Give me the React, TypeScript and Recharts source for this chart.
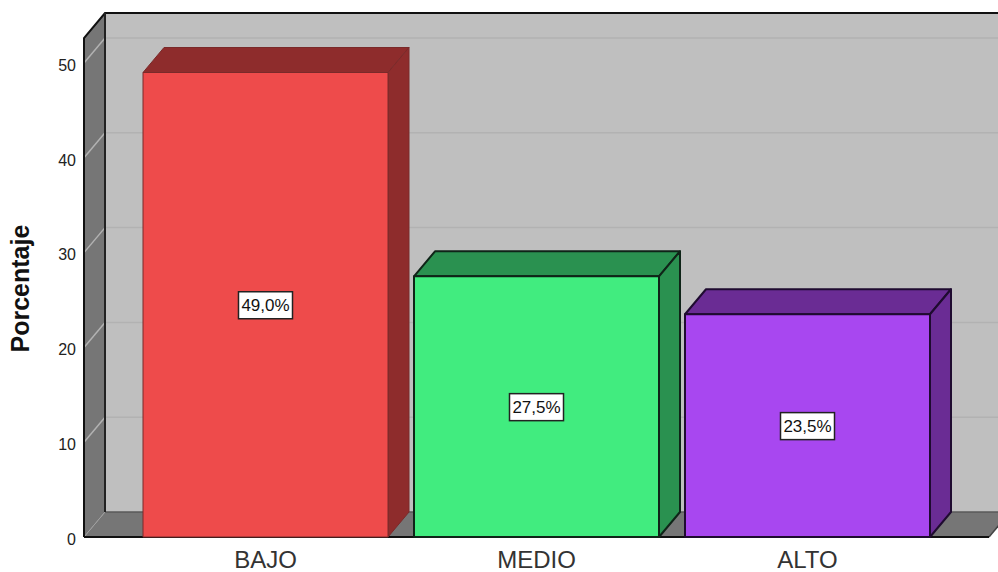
import React from 'react';
import { BarChart, Bar, XAxis, YAxis, LabelList, usePlotArea } from 'recharts';

const categories = ['BAJO', 'MEDIO', 'ALTO'];
const percentages = [49.0, 27.5, 23.5];
const valueTicks = [0, 10, 20, 30, 40, 50];
const frontColors = ['#EE4B4B', '#41EC7F', '#A847F0'];
const shadeColors = ['#8E2C2C', '#2A9150', '#6A2C94'];
const edgeColors = ['#7A2A2A', '#0F2418', '#1F0B30'];
const edgeWidths = [1, 2, 2];

const AXIS_MAX = 52.64;
const DEPTH_X = 21;
const DEPTH_Y = 25;
const FONT = '"Liberation Sans", Arial, sans-serif';

const rows = categories.map((name, i) => ({ name, value: percentages[i] }));

// Back wall, left wall and floor of the 3D box behind the bars.
function Walls() {
  const plot = usePlotArea();
  if (!plot) return null;
  const { x, y, width, height } = plot;
  const bottom = y + height;
  const right = x + width;
  const yOf = (v: number) => bottom - (v / AXIS_MAX) * height;
  return (
    <g>
      <rect x={x + DEPTH_X} y={y - DEPTH_Y} width={width} height={height} fill="#BFBFBF" />
      <polygon
        points={`${x},${y} ${x + DEPTH_X},${y - DEPTH_Y} ${x + DEPTH_X},${bottom - DEPTH_Y} ${x},${bottom}`}
        fill="#767676"
      />
      <polygon
        points={`${x},${bottom} ${x + DEPTH_X},${bottom - DEPTH_Y} ${right + DEPTH_X},${bottom - DEPTH_Y} ${right},${bottom}`}
        fill="#767676"
      />
      {valueTicks.slice(1).map((t) => (
        <g key={t} stroke="#B2B2B2" strokeWidth={1.5} fill="none">
          <line x1={x} y1={yOf(t)} x2={x + DEPTH_X} y2={yOf(t) - DEPTH_Y} />
          <line x1={x + DEPTH_X} y1={yOf(t) - DEPTH_Y} x2={right + DEPTH_X} y2={yOf(t) - DEPTH_Y} />
        </g>
      ))}
      <line x1={x} y1={bottom} x2={x + DEPTH_X} y2={bottom - DEPTH_Y} stroke="#A0A0A0" strokeWidth={1} />
      <line x1={x + DEPTH_X} y1={bottom - DEPTH_Y} x2={right + DEPTH_X} y2={bottom - DEPTH_Y} stroke="#5A5A5A" strokeWidth={1.5} />
      <path
        d={`M${x},${bottom} L${x},${y} L${x + DEPTH_X},${y - DEPTH_Y} L${right + DEPTH_X},${y - DEPTH_Y}`}
        stroke="#111111"
        strokeWidth={2}
        fill="none"
      />
      <line x1={x + DEPTH_X} y1={y - DEPTH_Y} x2={x + DEPTH_X} y2={bottom - DEPTH_Y} stroke="#222222" strokeWidth={2} />
      <line x1={right} y1={bottom} x2={right + DEPTH_X} y2={bottom - DEPTH_Y} stroke="#444444" strokeWidth={1.5} />
      <line x1={x} y1={bottom} x2={right} y2={bottom} stroke="#111111" strokeWidth={2} />
    </g>
  );
}

// A bar drawn as a box: front face, top face and right side.
function BoxBar(props: any) {
  const { x, y, width, height, index } = props;
  const shade = shadeColors[index];
  const r = x + width;
  const b = y + height;
  return (
    <g stroke={edgeColors[index]} strokeWidth={edgeWidths[index]} strokeLinejoin="round">
      <polygon
        points={`${x},${y} ${x + DEPTH_X},${y - DEPTH_Y} ${r + DEPTH_X},${y - DEPTH_Y} ${r},${y}`}
        fill={shade}
      />
      <polygon
        points={`${r},${y} ${r + DEPTH_X},${y - DEPTH_Y} ${r + DEPTH_X},${b - DEPTH_Y} ${r},${b}`}
        fill={shade}
      />
      <rect x={x} y={y} width={width} height={height} fill={frontColors[index]} />
    </g>
  );
}

// White boxed percentage at the middle of each front face.
function BoxLabel(props: any) {
  const { x, y, width, height, value } = props;
  const cx = x + width / 2;
  const cy = y + height / 2;
  const text = `${Number(value).toFixed(1).replace('.', ',')}%`;
  return (
    <g>
      <rect x={cx - 27} y={cy - 13} width={54} height={27} fill="#FFFFFF" stroke="#222222" strokeWidth={1.5} />
      <text x={cx} y={cy + 6.5} textAnchor="middle" fontSize={17} fontFamily={FONT} fill="#111111">
        {text}
      </text>
    </g>
  );
}

export default function App() {
  return (
    <div style={{ position: 'absolute', left: 0, top: 0, width: 998, height: 572, background: '#FFFFFF', overflow: 'hidden' }}>
      <BarChart
        width={998}
        height={572}
        data={rows}
        margin={{ top: 38, right: 9, bottom: 0, left: 0 }}
        barCategoryGap={0}
      >
        <Walls />
        <XAxis
          dataKey="name"
          height={35}
          axisLine={false}
          tickLine={false}
          padding={{ left: 46, right: 46 }}
          tick={{ fontSize: 24, fontFamily: FONT, fill: '#333333', dy: 2 }}
          tickMargin={6}
          interval={0}
        />
        <YAxis
          type="number"
          domain={[0, AXIS_MAX]}
          ticks={valueTicks}
          width={84}
          axisLine={false}
          tickLine={false}
          tickMargin={2}
          tick={{ fontSize: 16, fontFamily: FONT, fill: '#222222', dy: 2 }}
          label={{
            value: 'Porcentaje',
            angle: -90,
            position: 'insideLeft',
            dx: 15,
            dy: 65,
            style: { fontSize: 25, fontWeight: 700, fontFamily: FONT, fill: '#111111' },
          }}
        />
        <Bar dataKey="value" barSize={245} shape={BoxBar} isAnimationActive={false}>
          <LabelList dataKey="value" content={BoxLabel} />
        </Bar>
      </BarChart>
    </div>
  );
}
